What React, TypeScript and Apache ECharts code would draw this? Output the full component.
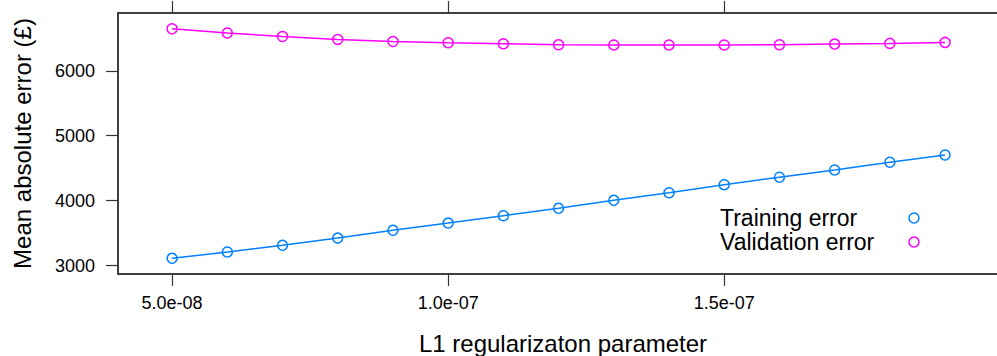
import React, { useEffect, useRef } from "react";
import * as echarts from "echarts";

const lambdas = [5e-8, 6e-8, 7e-8, 8e-8, 9e-8, 1e-7, 1.1e-7, 1.2e-7, 1.3e-7, 1.4e-7, 1.5e-7, 1.6e-7, 1.7e-7, 1.8e-7, 1.9e-7];
const trainingError = [3113, 3210, 3313, 3425, 3544, 3656, 3769, 3883, 4006, 4123, 4247, 4361, 4473, 4592, 4704];
const validationError = [6647, 6581, 6528, 6482, 6451, 6431, 6416, 6401, 6396, 6396, 6396, 6401, 6411, 6421, 6436];
const xTicks = [5e-8, 1e-7, 1.5e-7];
const yTicks = [3000, 4000, 5000, 6000];
const seriesNames = ["Training error", "Validation error"];
const seriesColors = ["#0080ff", "#ff00ff"];

const FONT = "'Liberation Sans', Arial, Helvetica, sans-serif";
const AXIS_COLOR = "#333333";

function fmtExp(v: number): string {
  return v.toExponential(1).replace(/e([+-])(\d)$/, "e$10$2");
}

export default function App() {
  const ref = useRef<HTMLDivElement>(null);
  useEffect(() => {
    if (!ref.current) return;
    const chart = echarts.init(ref.current, undefined, { renderer: "svg" });
    const mk = (vals: number[]) => lambdas.map((x, i) => [x, vals[i]]);
    const legendItems: any[] = [];
    seriesNames.forEach((name, i) => {
      const cy = 218 + i * 24;
      legendItems.push({
        type: "text",
        left: 720,
        top: cy - 11.5,
        style: { text: name, fontSize: 23, lineHeight: 23, fontFamily: FONT, fill: "#000", textVerticalAlign: "top" },
      });
      legendItems.push({
        type: "circle",
        shape: { cx: 914, cy, r: 5 },
        style: { fill: "none", stroke: seriesColors[i], lineWidth: 1.5 },
      });
    });
    chart.setOption({
      animation: false,
      backgroundColor: "#ffffff",
      grid: {
        left: 118,
        top: 13,
        right: -11,
        bottom: 82,
        outerBoundsMode: "none",
        containLabel: false,
        show: true,
        borderColor: AXIS_COLOR,
        borderWidth: 1.5,
        backgroundColor: "transparent",
      },
      xAxis: [
        {
          type: "value",
          min: 4.02e-8,
          max: 2.014e-7,
          position: "bottom",
          name: "L1 regularizaton parameter",
          nameLocation: "middle",
          nameGap: 57,
          nameTextStyle: { fontSize: 24, fontFamily: FONT, color: "#000" },
          axisLine: { show: true, onZero: false, lineStyle: { color: AXIS_COLOR, width: 1.5 } },
          axisTick: { show: true, length: 12, customValues: xTicks, lineStyle: { color: AXIS_COLOR, width: 1.2 } },
          axisLabel: {
            show: true,
            customValues: xTicks,
            formatter: (v: number) => fmtExp(v),
            fontSize: 18,
            fontFamily: FONT,
            color: "#000",
            margin: 20,
          },
          splitLine: { show: false },
        },
        {
          type: "value",
          min: 4.02e-8,
          max: 2.014e-7,
          position: "top",
          axisLine: { show: true, onZero: false, lineStyle: { color: AXIS_COLOR, width: 1.5 } },
          axisTick: { show: true, length: 12, customValues: xTicks, lineStyle: { color: AXIS_COLOR, width: 1.2 } },
          axisLabel: { show: false },
          splitLine: { show: false },
        },
      ],
      yAxis: {
        type: "value",
        min: 2872,
        max: 6889,
        name: "Mean absolute error (£)",
        nameLocation: "middle",
        nameGap: 84,
        nameTextStyle: { fontSize: 24, fontFamily: FONT, color: "#000" },
        axisLine: { show: true, onZero: false, lineStyle: { color: AXIS_COLOR, width: 1.5 } },
        axisTick: { show: true, length: 12, customValues: yTicks, lineStyle: { color: AXIS_COLOR, width: 1.2 } },
        axisLabel: {
          show: true,
          customValues: yTicks,
          formatter: (v: number) => String(v),
          fontSize: 18,
          fontFamily: FONT,
          color: "#000",
          margin: 23,
        },
        splitLine: { show: false },
      },
      series: [
        {
          name: seriesNames[0],
          type: "line",
          data: mk(trainingError),
          symbol: "circle",
          symbolSize: 10,
          showAllSymbol: true,
          lineStyle: { color: seriesColors[0], width: 1.5 },
          itemStyle: { color: "rgba(255,255,255,0)", borderColor: seriesColors[0], borderWidth: 1.5 },
        },
        {
          name: seriesNames[1],
          type: "line",
          data: mk(validationError),
          symbol: "circle",
          symbolSize: 10,
          showAllSymbol: true,
          lineStyle: { color: seriesColors[1], width: 1.5 },
          itemStyle: { color: "rgba(255,255,255,0)", borderColor: seriesColors[1], borderWidth: 1.5 },
        },
      ],
      graphic: legendItems,
    });
    return () => chart.dispose();
  }, []);
  return (
    <div
      ref={ref}
      style={{ position: "fixed", left: 0, top: 0, width: 997, height: 356, background: "#fff" }}
    />
  );
}
